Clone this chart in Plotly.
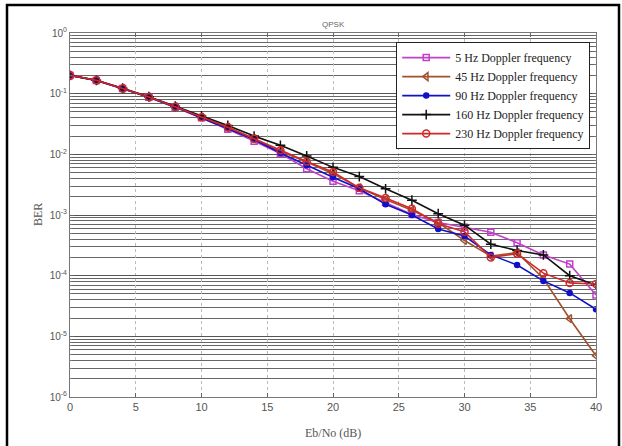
import plotly.graph_objects as go

ebno = list(range(0, 41, 2))

ber_5hz = [0.2, 0.165, 0.122, 0.087, 0.060, 0.040, 0.026, 0.0165, 0.0103, 0.0058, 0.0036,
           0.0025, 0.0016, 0.00102, 0.00075, 0.00063, 0.00052, 0.00035, 0.00022, 0.000155, 0.000048]
ber_45hz = [0.2, 0.166, 0.122, 0.088, 0.061, 0.041, 0.028, 0.018, 0.0112, 0.0075, 0.0048,
            0.0028, 0.0018, 0.0012, 0.00075, 0.00038, 0.00021, 0.00024, 0.00009, 0.0000195, 0.0000048]
ber_90hz = [0.2, 0.165, 0.121, 0.087, 0.060, 0.040, 0.027, 0.0175, 0.0105, 0.0066, 0.0042,
            0.0027, 0.0015, 0.0010, 0.00059, 0.00045, 0.00022, 0.00015, 0.000082, 0.000052, 0.000028]
ber_160hz = [0.2, 0.166, 0.123, 0.089, 0.062, 0.043, 0.030, 0.020, 0.0141, 0.0094, 0.0061,
             0.0043, 0.0027, 0.00175, 0.00105, 0.00068, 0.00033, 0.00026, 0.00022, 0.00010, 0.00007]
ber_230hz = [0.2, 0.166, 0.122, 0.088, 0.061, 0.041, 0.028, 0.018, 0.0117, 0.0076, 0.0051,
             0.0028, 0.0019, 0.00127, 0.00072, 0.00053, 0.00020, 0.00023, 0.00011, 0.000076, 0.000073]

series_names = ["5 Hz Doppler frequency", "45 Hz Doppler frequency", "90 Hz Doppler frequency",
                "160 Hz Doppler frequency", "230 Hz Doppler frequency"]

y_tickvals = [1, 1e-1, 1e-2, 1e-3, 1e-4, 1e-5, 1e-6]
y_ticktext = ["10<sup>0</sup>", "10<sup>-1</sup>", "10<sup>-2</sup>", "10<sup>-3</sup>",
              "10<sup>-4</sup>", "10<sup>-5</sup>", "10<sup>-6</sup>"]
x_tickvals = [0, 5, 10, 15, 20, 25, 30, 35, 40]

styles = [
    dict(color="#C040C8", symbol="square-open", size=6),
    dict(color="#A0522D", symbol="triangle-left-open", size=7),
    dict(color="#1010C8", symbol="circle", size=5),
    dict(color="#111111", symbol="cross-thin-open", size=7),
    dict(color="#D02828", symbol="circle-open", size=7),
]

fig = go.Figure()
for name, ys, st in zip(series_names, [ber_5hz, ber_45hz, ber_90hz, ber_160hz, ber_230hz], styles):
    fig.add_trace(go.Scatter(
        x=ebno, y=ys, name=name, mode="lines+markers",
        line=dict(color=st["color"], width=1.6),
        marker=dict(symbol=st["symbol"], size=st["size"], color=st["color"],
                    line=dict(color=st["color"], width=1.5)),
    ))

L, R, T, B = 70, 26, 33, 49
W, H = 622, 446
pw, ph = W - L - R, H - T - B

fig.update_layout(
    width=W, height=H,
    margin=dict(l=L, r=R, t=T, b=B),
    paper_bgcolor="white", plot_bgcolor="white",
    showlegend=True,
    legend=dict(x=0.989, y=0.975, xanchor="right", yanchor="top",
                bgcolor="white", bordercolor="#222", borderwidth=1,
                font=dict(family="Liberation Serif, Times New Roman, serif", size=12, color="#222"),
                tracegroupgap=0, itemwidth=48),
    font=dict(family="Liberation Sans, Arial, sans-serif", color="#555"),
)

fig.update_xaxes(
    range=[0, 40], tickvals=x_tickvals, ticks="inside", ticklen=4, tickcolor="#666",
    showline=True, linecolor="#777", linewidth=1, mirror="ticks",
    showgrid=True, gridcolor="#bbb", griddash="dot", gridwidth=1, zeroline=False,
    tickfont=dict(size=11, color="#555"),
)
fig.update_yaxes(
    type="log", range=[-6, 0], tickvals=y_tickvals, ticktext=y_ticktext,
    ticks="inside", ticklen=4, tickcolor="#666",
    showline=True, linecolor="#777", linewidth=1, mirror="ticks",
    showgrid=True, gridcolor="#555", griddash="solid", gridwidth=1, zeroline=False,
    minor=dict(dtick="D1", showgrid=True, gridcolor="#666", griddash="solid", gridwidth=1,
               ticks="inside", ticklen=2, tickcolor="#777"),
    tickfont=dict(size=10, color="#555"),
)

fig.add_annotation(text="QPSK", xref="paper", yref="paper", x=0.5, y=(H - B - 24) / ph,
                   showarrow=False, font=dict(size=8, color="#666"), yanchor="middle")
fig.add_annotation(text="Eb/No (dB)", xref="paper", yref="paper", x=0.5, y=(H - B - 433) / ph,
                   showarrow=False, yanchor="middle",
                   font=dict(family="Liberation Serif, Times New Roman, serif", size=12, color="#555"))
fig.add_annotation(text="BER", xref="paper", yref="paper", x=(38 - L) / pw, y=0.5, textangle=-90,
                   showarrow=False, xanchor="center", yanchor="middle",
                   font=dict(family="Liberation Serif, Times New Roman, serif", size=12, color="#555"))

fig.add_shape(type="rect", xref="paper", yref="paper",
              x0=(7 - L) / pw, x1=(619 - L) / pw,
              y0=(H - B - 460) / ph, y1=(H - B - 5) / ph,
              line=dict(color="black", width=2.5), fillcolor="rgba(0,0,0,0)", layer="above")

fig.write_html("out.html")
